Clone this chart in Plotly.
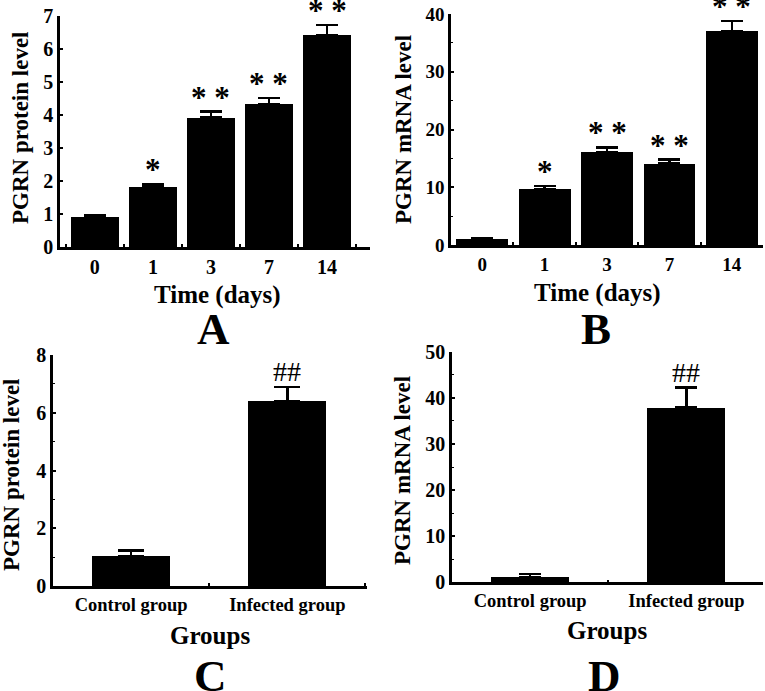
import plotly.graph_objects as go
from plotly.subplots import make_subplots

# ---- data ----
days = ["0", "1", "3", "7", "14"]
protein_time = [0.92, 1.82, 3.92, 4.33, 6.42]
protein_time_err = [0.04, 0.08, 0.18, 0.19, 0.30]
protein_time_sig = ["", "*", "* *", "* *", "* *"]

mrna_time = [1.1, 9.7, 16.1, 14.1, 37.1]
mrna_time_err = [0.1, 0.5, 0.8, 0.7, 1.7]
mrna_time_sig = ["", "*", "* *", "* *", "* *"]

groups = ["Control group", "Infected group"]
protein_group = [1.03, 6.40]
protein_group_err = [0.20, 0.50]
protein_group_sig = ["", "##"]

mrna_group = [1.2, 37.9]
mrna_group_err = [0.6, 4.3]
mrna_group_sig = ["", "##"]

W, H = 765, 691
FONT = "Liberation Serif"

fig = make_subplots(rows=2, cols=2)

panels = [
    dict(r=1, c=1, x=days, y=protein_time, e=protein_time_err, s=protein_time_sig,
         xdom=(60, 370), ydom=(16, 247), yr=[0, 7], dt=1, xr=[-0.6, 4.74], bw=0.83, cap=11,
         ytitle="PGRN protein level", xtitle="Time (days)", letter="A", minor=None,
         sigsize=31, sigweight="bold", ytick=20, xtick=20,
         ytpos=(20, 128), xtpos=(217, 295), lpos=(213, 329)),
    dict(r=1, c=2, x=days, y=mrna_time, e=mrna_time_err, s=mrna_time_sig,
         xdom=(451, 763), ydom=(14, 245), yr=[0, 40], dt=10, xr=[-0.5, 4.5], bw=0.83, cap=11,
         ytitle="PGRN mRNA level", xtitle="Time (days)", letter="B", minor=5,
         sigsize=31, sigweight="bold", ytick=19, xtick=19,
         ytpos=(403, 130), xtpos=(597, 293), lpos=(596, 329)),
    dict(r=2, c=1, x=groups, y=protein_group, e=protein_group_err, s=protein_group_sig,
         xdom=(53, 367), ydom=(355, 586), yr=[0, 8], dt=2, xr=[-0.5, 1.51], bw=0.5, cap=13,
         ytitle="PGRN protein level", xtitle="Groups", letter="C", minor=1,
         sigsize=28, sigweight="normal", ytick=20, xtick=18.5,
         ytpos=(11, 475), xtpos=(210, 635), lpos=(210, 676)),
    dict(r=2, c=2, x=groups, y=mrna_group, e=mrna_group_err, s=mrna_group_sig,
         xdom=(452, 763), ydom=(351.7, 582.3), yr=[0, 50], dt=10, xr=[-0.5, 1.49], bw=0.5, cap=11,
         ytitle="PGRN mRNA level", xtitle="Groups", letter="D", minor=5,
         sigsize=28, sigweight="normal", ytick=20, xtick=18.5,
         ytpos=(402, 471), xtpos=(607, 630), lpos=(604, 676)),
]

for i, p in enumerate(panels):
    idx = "" if i == 0 else str(i + 1)
    fig.add_trace(go.Bar(
        x=p["x"], y=p["y"], width=p["bw"],
        marker=dict(color="black", line=dict(width=0)),
        error_y=dict(type="data", array=p["e"], symmetric=False, arrayminus=[0] * len(p["e"]),
                     color="black", thickness=2.5, width=p["cap"]),
        showlegend=False,
    ), row=p["r"], col=p["c"])

    x0, x1 = p["xdom"]
    ytop, ybot = p["ydom"]
    fig.layout["xaxis" + idx].update(
        domain=[x0 / W, x1 / W], range=p["xr"], type="category", automargin=False,
        showline=True, linecolor="black", linewidth=2.5, mirror=False,
        ticks="inside", ticklen=3, tickwidth=1.5, tickcolor="black", tickson="boundaries",
        showgrid=False, zeroline=False,
        tickfont=dict(family=FONT, size=p["xtick"], color="black", weight="bold"),
    )
    yax = dict(
        domain=[1 - ybot / H, 1 - ytop / H], range=p["yr"], dtick=p["dt"], tick0=0,
        automargin=False,
        showline=True, linecolor="black", linewidth=2.5,
        ticks="inside", ticklen=3, tickwidth=1.5, tickcolor="black",
        showgrid=False, zeroline=False,
        tickfont=dict(family=FONT, size=p["ytick"], color="black", weight="bold"),
    )
    if p["minor"]:
        yax["minor"] = dict(dtick=p["minor"], ticks="inside", ticklen=2, tickwidth=1.2,
                            tickcolor="black", showgrid=False)
    fig.layout["yaxis" + idx].update(**yax)

    # significance marks
    for k, (yi, ei, si) in enumerate(zip(p["y"], p["e"], p["s"])):
        if si:
            fig.add_annotation(
                x=k, y=yi + ei, xref="x" + idx, yref="y" + idx,
                text=si, showarrow=False, yanchor="bottom",
                yshift=-5 if "*" in si else -2,
                font=dict(family=FONT, size=p["sigsize"], color="black", weight=p["sigweight"]),
            )

    # axis titles
    tx, ty = p["ytpos"]
    fig.add_annotation(
        x=tx / W, y=1 - ty / H, xref="paper", yref="paper", text=p["ytitle"],
        textangle=-90, showarrow=False, xanchor="center", yanchor="middle",
        font=dict(family=FONT, size=23, color="black", weight="bold"),
    )
    tx, ty = p["xtpos"]
    fig.add_annotation(
        x=tx / W, y=1 - ty / H, xref="paper", yref="paper", text=p["xtitle"],
        showarrow=False, xanchor="center", yanchor="middle",
        font=dict(family=FONT, size=25, color="black", weight="bold"),
    )

    lx, ly = p["lpos"]
    fig.add_annotation(
        x=lx / W, y=1 - ly / H, xref="paper", yref="paper", text=p["letter"],
        showarrow=False, xanchor="center", yanchor="middle",
        font=dict(family=FONT, size=45, color="black", weight="bold"),
    )

fig.update_layout(
    width=W, height=H, margin=dict(l=0, r=0, t=0, b=0),
    plot_bgcolor="white", paper_bgcolor="white", bargap=0,
)

fig.write_html("out.html", config={"displayModeBar": False},
               post_script="document.body.style.margin='0';document.body.style.overflow='hidden';")
